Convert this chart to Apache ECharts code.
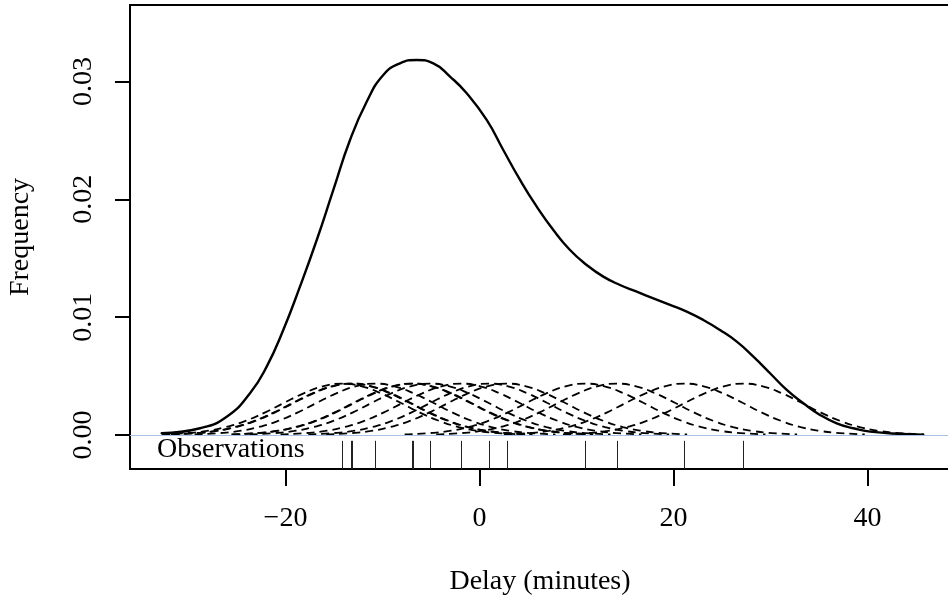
<!DOCTYPE html>
<html><head><meta charset="utf-8">
<script src="https://cdn.jsdelivr.net/npm/echarts@6/dist/echarts.min.js"></script>
<style>html,body{margin:0;padding:0;background:#fff}#c{width:948px;height:601px}</style>
</head><body><div id="c"></div>
<script>
// Overall density curve
const densX = [-32.76,-28.81,-26.06,-23.66,-21.94,-20.23,-18.51,-16.78,-15.07,-13.35,-11.63,-9.92,-8.20,-6.47,-4.76,-3.04,-1.32,0.74,2.45,4.18,5.90,7.61,9.33,11.05,12.76,14.48,16.21,17.92,19.64,21.36,23.07,24.79,26.52,28.23,29.95,31.67,33.38,35.10,36.82,38.54,40.26,43.69,45.75];
const densY = [0.00014,0.00057,0.00155,0.00354,0.00580,0.00891,0.01259,0.01655,0.02080,0.02504,0.02829,0.03056,0.03155,0.03183,0.03155,0.03042,0.02901,0.02674,0.02419,0.02165,0.01938,0.01740,0.01570,0.01443,0.01344,0.01273,0.01216,0.01160,0.01104,0.01047,0.00976,0.00891,0.00792,0.00665,0.00524,0.00382,0.00269,0.00170,0.00099,0.00057,0.00028,0.00008,0.00002];
// Observations (rug positions)
const observations = [-14.14,-13.23,-13.13,-10.77,-6.98,-6.88,-5.10,-1.91,0.95,2.80,10.88,14.14,21.11,27.20];
const kernelOffset = [-18.6,-16,-14,-12,-10,-8,-6,-4,-2,0,2,4,6,8,10,12,14,16,18.6];
const kernelHeight = [0.00005,0.00016,0.00034,0.00067,0.00119,0.00190,0.00273,0.00353,0.00413,0.00435,0.00413,0.00353,0.00273,0.00190,0.00119,0.00067,0.00034,0.00016,0.00005];
const xTicks = [-20, 0, 20, 40];
const yTicks = [0, 0.01, 0.02, 0.03];

const FONT = 'Liberation Serif';
const xMin = -36.03, xMax = 48.5, yMin = -0.00289, yMax = 0.0365;
const chart = echarts.init(document.getElementById('c'), null, {renderer: 'canvas'});

const series = [];
observations.forEach(o => {
  series.push({
    type: 'line', data: kernelOffset.map((d, j) => [o + d, kernelHeight[j]]),
    smooth: true, symbol: 'none', silent: true, z: 2,
    lineStyle: {color: '#000', width: 1.8, type: [8, 5]}
  });
});
series.push({
  type: 'line', data: densX.map((x, i) => [x, densY[i]]),
  smooth: 0.5, symbol: 'none', silent: true, z: 3,
  lineStyle: {color: '#000', width: 2.4, join: 'round', cap: 'round'},
  markLine: {silent: true, symbol: 'none', label: {show: false},
    lineStyle: {color: '#a9c0e0', width: 1, type: 'solid'}, data: [{yAxis: 0}]}
});
series.push({
  type: 'custom', data: observations.map(o => [o, 0]), encode: {x: 0, y: 1}, z: 4, silent: true,
  renderItem(params, api) {
    const x = api.value(0);
    const p1 = api.coord([x, -0.0005]);
    const p2 = api.coord([x, yMin]);
    const px = Math.round(p1[0]) + 0.5;
    return {type: 'line', shape: {x1: px, y1: p1[1], x2: px, y2: p2[1]}, style: {stroke: '#222', lineWidth: 1}};
  }
});

chart.setOption({
  animation: false,
  grid: {left: 130, right: -2, top: 5, bottom: 132, show: true, borderColor: '#000', borderWidth: 2,
    backgroundColor: 'transparent', containLabel: false, outerBoundsMode: 'none'},
  xAxis: {
    type: 'value', min: xMin, max: xMax,
    axisLine: {show: true, onZero: false, lineStyle: {color: '#000', width: 2}},
    axisTick: {show: true, length: 17, inside: false, customValues: xTicks, lineStyle: {color: '#000', width: 2}},
    axisLabel: {customValues: xTicks, margin: 36, fontFamily: FONT, fontSize: 28, color: '#000',
      formatter: v => v < 0 ? '\u2212' + Math.abs(v) : String(v)},
    splitLine: {show: false},
    name: 'Delay (minutes)', nameLocation: 'middle', nameGap: 99,
    nameTextStyle: {fontFamily: FONT, fontSize: 28, color: '#000'}
  },
  yAxis: {
    type: 'value', min: yMin, max: yMax,
    axisLine: {show: true, onZero: false, lineStyle: {color: '#000', width: 2}},
    axisTick: {show: true, length: 15, inside: false, customValues: yTicks, lineStyle: {color: '#000', width: 2}},
    axisLabel: {customValues: yTicks, rotate: 90, margin: 32, fontFamily: FONT, fontSize: 28, color: '#000',
      formatter: v => v.toFixed(2)},
    splitLine: {show: false},
    name: 'Frequency', nameLocation: 'middle', nameGap: 95, nameRotate: 90,
    nameTextStyle: {fontFamily: FONT, fontSize: 28, color: '#000'}
  },
  graphic: [{
    type: 'text', x: 157, y: 449.5, z: 10, silent: true,
    style: {text: 'Observations', fontFamily: FONT, fontSize: 28, fill: '#000', align: 'left', verticalAlign: 'middle'}
  }],
  series: series
});
</script>
</body></html>
